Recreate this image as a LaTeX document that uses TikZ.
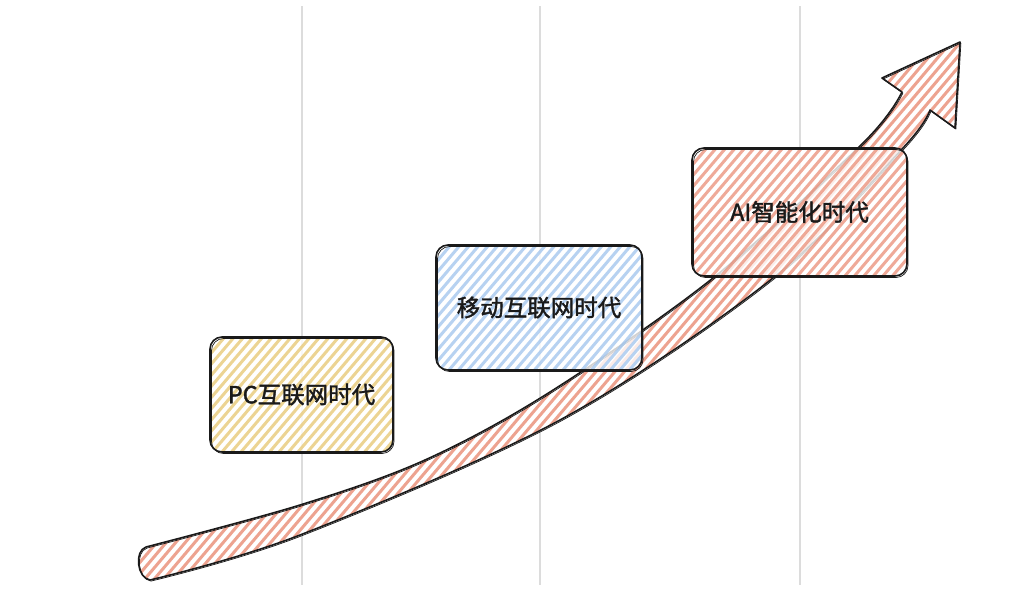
\documentclass[tikz,border=0pt]{standalone}
\usepackage{fontspec}
\newfontfamily\cjk[FakeBold=1.6]{Noto Sans CJK SC}
\definecolor{ylw}{HTML}{E6C46A}
\definecolor{blu}{HTML}{9CC1EC}
\definecolor{redh}{HTML}{E98A72}
\definecolor{vline}{HTML}{DCDCDC}
\definecolor{ink}{HTML}{1A1A1A}
\tikzset{
  hatchline/.style={line width=3.0, line cap=round},
  boxnode/.style={draw=ink, line width=1.6, rounded corners=12, inner sep=0pt,
    text=ink, font=\cjk\fontsize{23.5}{28}\selectfont},
  sketch/.style={draw=ink, line width=1.6, line join=round},
  sketchthin/.style={draw=ink, line width=0.7, line join=round},
  gridline/.style={draw=vline, line width=1.1}
}
% hatch a rounded box: x0,y0,x1,y1,colour
\newcommand\hatchbox[5]{%
  \begin{scope}
    \clip[rounded corners=12] (#1,#2) rectangle (#3,#4);
    \fill[white, fill opacity=0.8] (#1,#2) rectangle (#3,#4);
    \pgfmathsetmacro\hh{(#4-#2+10)*0.85}
    \pgfmathsetmacro\xs{#1-\hh}
    \pgfmathsetmacro\xn{\xs+9.5}
    \foreach \i in {\xs,\xn,...,#3}{
      \draw[hatchline, draw=#5, draw opacity=0.72] (\i,#4+5) -- ++(\hh,#2-#4-10);
    }
  \end{scope}}
\def\arrowpath{plot[smooth, tension=0.55] coordinates {(146,547) (300,505) (425,460) (550,392) (713,278) (863,143) (902,92)}
  -- (882,78) -- (960,42) -- (955,128) -- (930,110)
  -- plot[smooth, tension=0.55] coordinates {(930,110) (903,148) (773,278) (560,420) (300,535) (150,580)}
  .. controls (137,578) and (134,551) .. (146,547) -- cycle}
\begin{document}
\begin{tikzpicture}[x=1pt, y=-1pt]
  \useasboundingbox (0,0) rectangle (1024,600);
  % vertical grid lines
  \coordinate (g1t) at (302,6);  \coordinate (g1b) at (302,585);
  \coordinate (g2t) at (540,6);  \coordinate (g2b) at (540,585);
  \coordinate (g3t) at (800,6);  \coordinate (g3b) at (800,585);
  \draw[gridline] (g1t) -- (g1b);
  \draw[gridline] (g2t) -- (g2b);
  \draw[gridline] (g3t) -- (g3b);
  % growth arrow
  \begin{scope}
    \clip \arrowpath;
    \fill[white] (130,30) rectangle (970,590);
    \foreach \i in {-330,-320.5,...,970}{
      \draw[hatchline, draw=redh, draw opacity=0.78] (\i,590) -- ++(470,-555);
    }
  \end{scope}
  \draw[sketch] \arrowpath;
  \begin{scope}[shift={(0.9,1.1)}]
    \draw[sketchthin] \arrowpath;
  \end{scope}
  % boxes
  \hatchbox{210}{337}{393}{452}{ylw}
  \node[boxnode, minimum width=183, minimum height=115] (pc) at (301.5,394.5) {PC互联网时代};
  \draw[sketchthin, rounded corners=12] (211.5,338.5) rectangle (394,453.5);
  \hatchbox{436}{245}{642}{370}{blu}
  \node[boxnode, minimum width=206, minimum height=125] (mob) at (539,307.5) {移动互联网时代};
  \draw[sketchthin, rounded corners=12] (437.5,246.5) rectangle (643,371.5);
  \hatchbox{692}{148}{907}{276}{redh}
  \node[boxnode, minimum width=215, minimum height=128] (ai) at (799.5,212) {AI智能化时代};
  \draw[sketchthin, rounded corners=12] (693.5,149.5) rectangle (908,277.5);
\end{tikzpicture}
\end{document}
